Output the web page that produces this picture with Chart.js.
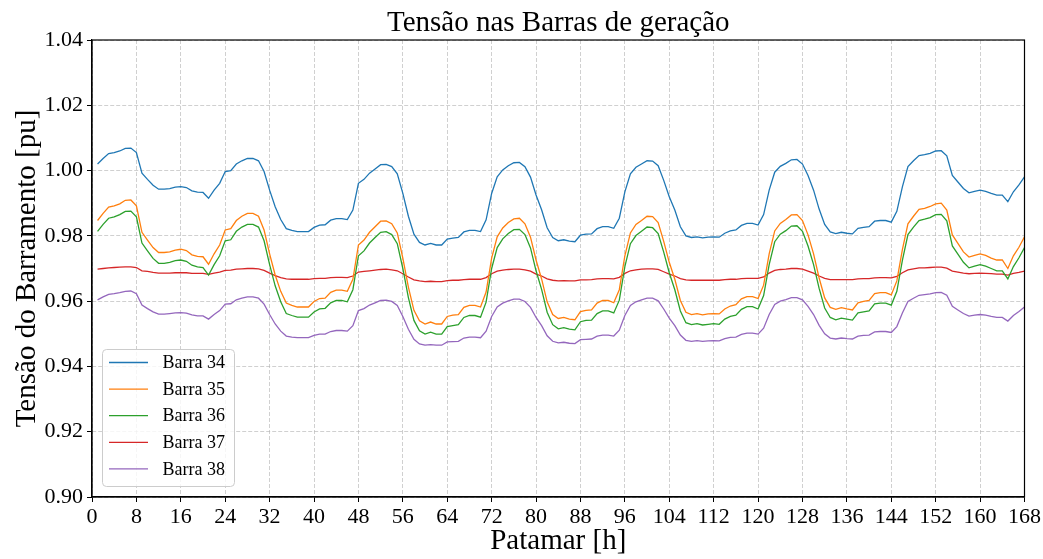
<!DOCTYPE html>
<html>
<head>
<meta charset="utf-8">
<script src="https://cdn.jsdelivr.net/npm/chart.js@4"></script>
<style>
html,body{margin:0;padding:0;background:#fff;}
#wrap{width:1043px;height:559px;position:relative;}
</style>
</head>
<body>
<div id="wrap"><canvas id="c" width="1043" height="559"></canvas></div>
<script>
const chartTitle = "Tensão nas Barras de geração";
const xTitle = "Patamar [h]";
const yTitle = "Tensão do Barramento [pu]";
const seriesNames = ["Barra 34", "Barra 35", "Barra 36", "Barra 37", "Barra 38"];
const seriesColors = ["#1f77b4", "#ff7f0e", "#2ca02c", "#d62728", "#9467bd"];
const hours = Array.from({length: 168}, (_, i) => i + 1);

const barra34 = [
1.0020,1.0037,1.0052,1.0055,1.0060,1.0068,1.0069,1.0055,0.9992,0.9973,0.9955,0.9943,0.9943,0.9945,0.9949,0.9951,0.9948,0.9938,0.9934,0.9933,0.9915,0.9940,0.9961,0.9997,
1.0000,1.0020,1.0030,1.0037,1.0037,1.0030,0.9997,0.9940,0.9889,0.9850,0.9822,0.9817,0.9813,0.9813,0.9813,0.9826,0.9833,0.9834,0.9848,0.9853,0.9853,0.9850,0.9879,0.9961,
0.9973,0.9992,1.0005,1.0018,1.0019,1.0012,0.9990,0.9930,0.9860,0.9805,0.9780,0.9772,0.9777,0.9772,0.9772,0.9790,0.9793,0.9795,0.9812,0.9817,0.9817,0.9813,0.9849,0.9930,
0.9981,1.0002,1.0015,1.0024,1.0025,1.0012,0.9980,0.9925,0.9880,0.9825,0.9795,0.9785,0.9788,0.9784,0.9782,0.9802,0.9805,0.9806,0.9822,0.9828,0.9828,0.9823,0.9854,0.9935,
0.9990,1.0010,1.0020,1.0030,1.0029,1.0015,0.9970,0.9920,0.9879,0.9828,0.9800,0.9795,0.9797,0.9794,0.9796,0.9797,0.9796,0.9808,0.9815,0.9818,0.9832,0.9838,0.9838,0.9833,
0.9865,0.9940,0.9995,1.0013,1.0022,1.0033,1.0034,1.0020,0.9985,0.9940,0.9882,0.9835,0.9812,0.9807,0.9811,0.9808,0.9806,0.9823,0.9826,0.9828,0.9845,0.9847,0.9847,0.9842,
0.9875,0.9950,1.0012,1.0030,1.0046,1.0049,1.0053,1.0060,1.0061,1.0045,0.9985,0.9965,0.9945,0.9932,0.9936,0.9940,0.9936,0.9930,0.9925,0.9925,0.9905,0.9935,0.9956,0.9981];

const barra35 = [
0.9847,0.9869,0.9888,0.9892,0.9898,0.9909,0.9910,0.9892,0.9811,0.9787,0.9764,0.9749,0.9749,0.9751,0.9756,0.9759,0.9755,0.9742,0.9737,0.9736,0.9713,0.9745,0.9772,0.9818,
0.9822,0.9847,0.9860,0.9869,0.9869,0.9860,0.9818,0.9745,0.9680,0.9630,0.9594,0.9587,0.9582,0.9582,0.9582,0.9599,0.9608,0.9609,0.9627,0.9634,0.9634,0.9630,0.9667,0.9772,
0.9787,0.9811,0.9828,0.9845,0.9846,0.9837,0.9809,0.9732,0.9643,0.9572,0.9540,0.9530,0.9536,0.9530,0.9530,0.9553,0.9557,0.9559,0.9581,0.9587,0.9587,0.9582,0.9628,0.9732,
0.9797,0.9824,0.9841,0.9852,0.9854,0.9837,0.9796,0.9726,0.9668,0.9598,0.9559,0.9547,0.9550,0.9545,0.9543,0.9568,0.9572,0.9573,0.9594,0.9602,0.9602,0.9595,0.9635,0.9739,
0.9809,0.9835,0.9847,0.9860,0.9859,0.9841,0.9783,0.9719,0.9667,0.9602,0.9566,0.9559,0.9562,0.9558,0.9561,0.9562,0.9561,0.9576,0.9585,0.9589,0.9607,0.9614,0.9614,0.9608,
0.9649,0.9745,0.9815,0.9838,0.9850,0.9864,0.9865,0.9847,0.9803,0.9745,0.9671,0.9610,0.9581,0.9575,0.9580,0.9576,0.9573,0.9595,0.9599,0.9602,0.9623,0.9626,0.9626,0.9619,
0.9662,0.9758,0.9837,0.9860,0.9881,0.9884,0.9890,0.9898,0.9900,0.9879,0.9803,0.9777,0.9751,0.9735,0.9740,0.9745,0.9740,0.9732,0.9726,0.9726,0.9700,0.9739,0.9765,0.9797];

const barra36 = [
0.9814,0.9835,0.9854,0.9858,0.9865,0.9875,0.9876,0.9858,0.9778,0.9754,0.9731,0.9716,0.9716,0.9719,0.9724,0.9726,0.9722,0.9710,0.9705,0.9703,0.9680,0.9712,0.9739,0.9785,
0.9788,0.9814,0.9827,0.9835,0.9835,0.9827,0.9785,0.9712,0.9647,0.9598,0.9562,0.9556,0.9551,0.9551,0.9551,0.9567,0.9576,0.9578,0.9595,0.9602,0.9602,0.9598,0.9635,0.9739,
0.9754,0.9778,0.9795,0.9811,0.9813,0.9804,0.9776,0.9700,0.9611,0.9541,0.9509,0.9499,0.9505,0.9499,0.9499,0.9522,0.9525,0.9528,0.9550,0.9556,0.9556,0.9551,0.9597,0.9700,
0.9764,0.9791,0.9807,0.9819,0.9820,0.9804,0.9763,0.9693,0.9636,0.9566,0.9528,0.9515,0.9519,0.9514,0.9512,0.9537,0.9541,0.9542,0.9562,0.9570,0.9570,0.9564,0.9603,0.9706,
0.9776,0.9801,0.9814,0.9827,0.9825,0.9807,0.9750,0.9687,0.9635,0.9570,0.9534,0.9528,0.9531,0.9527,0.9529,0.9531,0.9529,0.9545,0.9553,0.9557,0.9575,0.9583,0.9583,0.9576,
0.9617,0.9712,0.9782,0.9805,0.9816,0.9830,0.9831,0.9814,0.9769,0.9712,0.9639,0.9579,0.9550,0.9543,0.9548,0.9545,0.9542,0.9564,0.9567,0.9570,0.9592,0.9594,0.9594,0.9588,
0.9630,0.9725,0.9804,0.9827,0.9847,0.9851,0.9856,0.9865,0.9866,0.9846,0.9769,0.9744,0.9719,0.9702,0.9707,0.9712,0.9707,0.9700,0.9693,0.9693,0.9668,0.9706,0.9733,0.9764];

const barra37 = [
0.9698,0.9700,0.9702,0.9703,0.9704,0.9705,0.9705,0.9703,0.9693,0.9691,0.9688,0.9686,0.9686,0.9686,0.9687,0.9687,0.9687,0.9685,0.9685,0.9685,0.9682,0.9686,0.9689,0.9694,
0.9695,0.9698,0.9699,0.9700,0.9700,0.9699,0.9694,0.9686,0.9678,0.9672,0.9668,0.9667,0.9667,0.9667,0.9667,0.9669,0.9670,0.9670,0.9672,0.9673,0.9673,0.9672,0.9677,0.9689,
0.9691,0.9693,0.9695,0.9697,0.9698,0.9696,0.9693,0.9684,0.9674,0.9665,0.9662,0.9660,0.9661,0.9660,0.9660,0.9663,0.9664,0.9664,0.9666,0.9667,0.9667,0.9667,0.9672,0.9684,
0.9692,0.9695,0.9697,0.9698,0.9698,0.9696,0.9692,0.9683,0.9677,0.9668,0.9664,0.9662,0.9663,0.9662,0.9662,0.9665,0.9665,0.9666,0.9668,0.9669,0.9669,0.9668,0.9673,0.9685,
0.9693,0.9696,0.9698,0.9699,0.9699,0.9697,0.9690,0.9683,0.9677,0.9669,0.9665,0.9664,0.9664,0.9664,0.9664,0.9664,0.9664,0.9666,0.9667,0.9667,0.9669,0.9670,0.9670,0.9670,
0.9674,0.9686,0.9694,0.9697,0.9698,0.9700,0.9700,0.9698,0.9692,0.9686,0.9677,0.9670,0.9666,0.9666,0.9666,0.9666,0.9666,0.9668,0.9669,0.9669,0.9671,0.9672,0.9672,0.9671,
0.9676,0.9687,0.9696,0.9699,0.9702,0.9702,0.9703,0.9704,0.9704,0.9701,0.9692,0.9689,0.9686,0.9684,0.9685,0.9686,0.9685,0.9684,0.9683,0.9683,0.9680,0.9685,0.9688,0.9692];

const barra38 = [
0.9604,0.9613,0.9621,0.9623,0.9626,0.9630,0.9631,0.9623,0.9588,0.9577,0.9567,0.9560,0.9560,0.9562,0.9564,0.9565,0.9563,0.9558,0.9555,0.9555,0.9545,0.9559,0.9571,0.9591,
0.9592,0.9604,0.9609,0.9613,0.9613,0.9609,0.9591,0.9559,0.9530,0.9508,0.9493,0.9490,0.9488,0.9488,0.9488,0.9495,0.9499,0.9499,0.9507,0.9510,0.9510,0.9508,0.9525,0.9571,
0.9577,0.9588,0.9595,0.9602,0.9603,0.9599,0.9587,0.9553,0.9514,0.9483,0.9469,0.9465,0.9467,0.9465,0.9465,0.9475,0.9476,0.9477,0.9487,0.9490,0.9490,0.9488,0.9508,0.9553,
0.9582,0.9594,0.9601,0.9606,0.9606,0.9599,0.9581,0.9550,0.9525,0.9494,0.9477,0.9472,0.9474,0.9471,0.9470,0.9482,0.9483,0.9484,0.9493,0.9496,0.9496,0.9493,0.9511,0.9556,
0.9587,0.9598,0.9604,0.9609,0.9609,0.9601,0.9576,0.9548,0.9525,0.9496,0.9480,0.9477,0.9479,0.9477,0.9478,0.9479,0.9478,0.9485,0.9489,0.9490,0.9498,0.9502,0.9502,0.9499,
0.9517,0.9559,0.9590,0.9600,0.9605,0.9611,0.9611,0.9604,0.9584,0.9559,0.9526,0.9500,0.9487,0.9484,0.9487,0.9485,0.9484,0.9493,0.9495,0.9496,0.9506,0.9507,0.9507,0.9504,
0.9522,0.9564,0.9599,0.9609,0.9618,0.9620,0.9622,0.9626,0.9627,0.9618,0.9584,0.9573,0.9562,0.9554,0.9557,0.9559,0.9557,0.9553,0.9550,0.9550,0.9539,0.9556,0.9568,0.9582];

const seriesValues = [barra34, barra35, barra36, barra37, barra38];
const FONT = "'Liberation Serif', 'Times New Roman', serif";

const datasets = seriesNames.map((name, i) => ({
  label: name,
  data: hours.map((h, j) => ({x: h, y: seriesValues[i][j]})),
  borderColor: seriesColors[i],
  backgroundColor: seriesColors[i],
  borderWidth: 1.3,
  pointRadius: 0,
  tension: 0,
  fill: false
}));

const framePlugin = {
  id: 'frame',
  afterDraw(chart) {
    const {ctx, chartArea: a} = chart;
    ctx.save();
    ctx.strokeStyle = '#000';
    ctx.lineWidth = 1.2;
    ctx.strokeRect(a.left, a.top, a.right - a.left, a.bottom - a.top);
    // title centered over plot area
    ctx.fillStyle = '#000';
    ctx.font = "29px " + FONT;
    ctx.textAlign = 'center';
    ctx.textBaseline = 'alphabetic';
    ctx.fillText(chartTitle, (a.left + a.right) / 2, 31);
    // legend
    const bx = 102.5, by = 349.5, bw = 132, bh = 137;
    ctx.fillStyle = 'rgba(255,255,255,0.8)';
    ctx.strokeStyle = '#cccccc';
    ctx.lineWidth = 1;
    ctx.beginPath();
    ctx.roundRect(bx, by, bw, bh, 4);
    ctx.fill();
    ctx.stroke();
    ctx.font = "18px " + FONT;
    ctx.textAlign = 'left';
    ctx.textBaseline = 'middle';
    chart.data.datasets.forEach((ds, i) => {
      const y = 362.5 + i * 26.6;
      ctx.strokeStyle = ds.borderColor;
      ctx.lineWidth = 1.3;
      ctx.beginPath();
      ctx.moveTo(109, y);
      ctx.lineTo(148, y);
      ctx.stroke();
      ctx.fillStyle = '#000';
      ctx.fillText(ds.label, 162.5, y + 1);
    });
    ctx.restore();
  }
};

new Chart(document.getElementById('c'), {
  type: 'line',
  data: {datasets},
  plugins: [framePlugin],
  options: {
    responsive: false,
    animation: false,
    layout: {padding: {top: 40, right: 18, left: 0, bottom: 0}},
    plugins: {legend: {display: false}, title: {display: false}, tooltip: {enabled: false}},
    scales: {
      x: {
        type: 'linear', min: 0, max: 168,
        afterFit(s) { s.height = 62; },
        ticks: {stepSize: 8, autoSkip: false, maxRotation: 0, color: '#000', padding: 2,
          font: {family: FONT, size: 22}},
        grid: {color: 'rgba(176,176,176,0.75)', lineWidth: 0.8, tickColor: '#000', tickLength: 5,
          tickWidth: 1, tickBorderDash: [0, 0]},
        border: {display: true, color: '#000', width: 1.2, dash: [4, 2]},
        title: {display: true, text: xTitle, color: '#000', font: {family: FONT, size: 29},
          padding: {top: 0, bottom: 0}}
      },
      y: {
        min: 0.9, max: 1.04,
        afterFit(s) { s.width = 92; },
        ticks: {stepSize: 0.02, color: '#000', padding: 4,
          font: {family: FONT, size: 22},
          callback: v => Number(v).toFixed(2)},
        grid: {color: 'rgba(176,176,176,0.75)', lineWidth: 0.8, tickColor: '#000', tickLength: 5,
          tickWidth: 1, tickBorderDash: [0, 0]},
        border: {display: true, color: '#000', width: 1.2, dash: [4, 2]},
        title: {display: true, text: yTitle, color: '#000', font: {family: FONT, size: 29},
          padding: {top: 10, bottom: 0}}
      }
    }
  }
});
</script>
</body>
</html>
